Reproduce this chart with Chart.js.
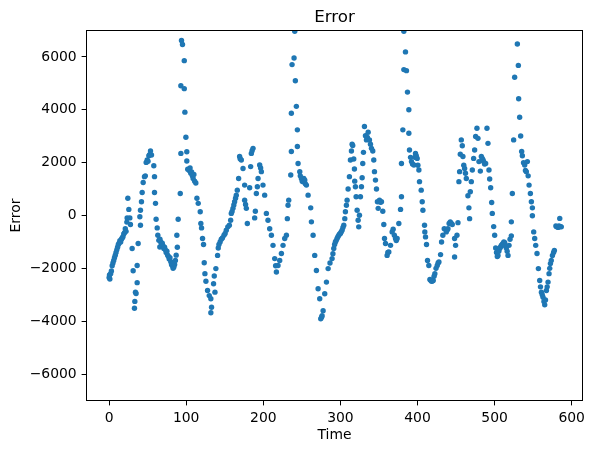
<!DOCTYPE html>
<html>
<head>
<meta charset="utf-8">
<script src="https://cdn.jsdelivr.net/npm/chart.js@4.4.1/dist/chart.umd.min.js"></script>
<style>
  html, body { margin: 0; padding: 0; background: #fff; }
  canvas { display: block; }
</style>
</head>
<body>
<canvas id="error_chart" width="593" height="453"></canvas>
<script>
// scatter of error over time

var timeValues = [
  0,0.5,1,2,3,4,5,6,7,8,9,10,11,12,13,14,15,16,17,18,19,20,21,22,23,23.4,24.3,25.6,26.9,27.7,
  29.9,31.2,32.9,33.4,34.2,35,36.4,36.4,37.7,39.9,40.7,40.7,42,42.9,44.2,45.9,47,48.1,49.4,50.5,
  51.6,52.5,53.7,55,58,58.9,58.9,60.2,61,62.4,63.2,64.5,65.8,66,67,68,69,70,71,72,
  73,74,75,76,77,78,79,80,81,82,83,84,85,86,87,87.9,88.5,89.6,92.3,93.1,
  93.1,93.9,95.2,97.5,97.5,98.3,99.6,100.8,100.8,102,103.9,105,106,107,108,109,110,111,112.5,113.9,
  115.6,118.2,119,119.9,121.2,122.5,123.4,124.3,125.6,127.7,129.9,132,132,132.9,135.5,136.4,137.3,138.5,140.7,141.6,
  142.5,144,145.5,147,149,150.5,152,154,156,157.7,158.5,159.5,160.7,161.8,162.8,164,165,166.3,168,169.3,
  170,171.5,173.7,175.8,175.8,177,178,179.3,182.3,183.6,184.5,185.5,186.7,188.8,189.7,191,192.3,193.2,195.3,196.5,
  197.5,199.6,201.8,204,206.1,208.3,210.5,212.6,214.8,216,217,219.1,221.3,223.5,225.6,227.8,230,231.2,232.1,233,
  235.6,236.4,236.4,237.3,239.9,240.8,241.6,242.9,244.2,244.2,245.1,247.3,248,249.4,250.5,251.6,252.5,253.8,254.5,255.9,
  258.1,261.5,262.4,264.6,266.7,268.9,271.1,273.2,274.5,275.5,276.3,277.6,279.7,281.9,284.1,286.5,
  289.2,290.3,291.4,292.5,293.5,294.5,295.7,296.8,297.9,299,300,301,302.2,303.3,304.4,305.7,306.5,307.8,308.7,310,
  311.7,313,314.3,315.2,316,317.3,318.2,318.6,319.5,320.4,321.7,323,323.8,324.7,326,327.3,328.2,329,329.9,331.2,
  332.5,333.8,335,336,337.7,339,340.3,342,343.3,344.2,345.5,346.8,348,349,350.7,352,353.3,355,356.3,357.2,
  358.5,360.6,361.5,362.8,365,367.1,368.4,370,371.5,372.5,373.6,375.8,378,379.2,379.2,381,382.3,382.3,384.4,385.7,
  387,388.8,388.8,389.6,391,392.2,393.5,395.3,396.5,397.4,398.5,399.6,400.5,401.8,402.6,404.8,406.1,407,409.1,409.5,
  410.4,411.7,413,414.7,416.1,417,418.2,419.3,420.4,421.5,422.5,424,425.6,426.7,427.8,429.9,431.2,432.9,434.7,
  437.3,438.5,439.5,441,442.5,444,445.1,448.1,448.1,449.4,451.2,452.5,453.7,454.6,455.5,456.8,458.1,458.9,460,461.1,
  462.2,463.3,465.4,466.7,467.6,468.5,469.8,471.1,472.8,474.1,475.4,477.1,478.4,479.7,481.5,482.8,484,485,485.8,487,
  488.4,490.1,491.4,492.7,493.6,494.9,496.2,497,498.8,500.1,501.4,502.5,503.5,504.4,505.5,506.6,507.5,508.7,509.8,510.9,
  512,513.1,514,515.2,516.3,517.4,518.7,520,521.7,521.7,523,524.7,526,529.5,530.8,531.2,532.5,533.8,535.1,536,
  537.5,539,540,541.2,542.5,543.5,544.7,546.4,547.7,549,549,550.7,552,553.3,555,556.8,558.5,559.5,560.7,561.8,
  562.8,564,565,566,567.2,568.2,569.3,570.6,571.5,572.4,573.5,575,576.5,577.5,579.5,580.5,581.5,582.5,583.5,584.5,
  585.5,586.5
];

var errorValues = [
  -2350,-2250,-2400,-2200,-2100,-1900,-1800,-1700,-1600,-1500,-1400,-1300,-1200,-1100,-1050,-950,-1000,-900,-850,-800,-700,-650,-500,-600,-250,-90,650,230,-90,-340,
  -1250,-2090,-3510,-3250,-2900,-2950,-2540,-1890,-1060,-50,-370,200,520,870,1250,1470,1500,2010,2100,2050,
  2260,2300,2440,2290,1880,1470,870,460,-140,-470,-750,-940,-1190,-900,-1000,-1100,-1050,-1150,-1250,-1200,
  -1300,-1400,-1350,-1500,-1550,-1650,-1600,-1750,-1850,-1900,-2000,-1950,-1850,-1700,-1500,-750,-1200,-140,830,2350,
  4910,6620,6470,5860,4800,3910,2960,2410,2060,1750,1700,1800,1600,1650,1500,1400,1550,1300,1230,650,
  460,140,-300,-470,-870,-1100,-1790,-2200,-2490,-2840,-3030,-3150,-3680,-3470,-2580,-2290,-2900,-2010,-1510,-1230,
  -1100,-1000,-900,-850,-750,-680,-560,-430,-370,-180,80,150,270,400,520,650,770,960,1400,2230,
  2150,2100,1780,1150,580,420,270,-300,1050,1850,2350,2450,2540,-90,160,830,1090,1400,1910,1800,
  1660,1150,770,80,-180,-500,-750,-1130,-1630,-1900,-2140,-1890,-1700,-1440,-1130,-870,-750,-120,390,580,
  1530,2420,3870,5710,5960,6970,5100,4130,3240,2610,1970,1660,1500,1400,1300,1280,1400,1340,1200,1150,
  770,290,-240,-750,-1510,-2080,-2770,-3150,-3910,-3850,-3790,-3600,-2960,-2520,-2010,-1800,
  -1630,-1450,-1250,-1100,-1000,-950,-870,-800,-750,-700,-680,-620,-560,-450,-370,-120,140,390,580,1000,
  1470,2100,2440,2700,2650,2140,1760,1300,1090,710,200,-180,-430,10,710,1090,1430,1970,2390,3370,
  3020,2860,2950,3150,2860,2700,2540,2440,2100,1660,1340,1000,520,270,580,500,520,160,-340,-870,
  -1060,-1510,-1400,-1380,-1130,-620,-520,-750,-870,-950,-870,-300,230,710,1970,3240,6970,5520,6190,5480,
  4670,4000,3110,2480,2200,2040,1950,1910,2200,2350,2250,2160,1900,1720,1280,960,520,200,-370,-620,
  -810,-1100,-1700,-1890,-2420,-2450,-2490,-2480,-2460,-2300,-2200,-2000,-1890,-1800,-1760,-1480,-1000,-750,-500,
  -620,-550,-500,-300,-240,-300,-340,-870,-1570,-1130,-750,-270,1280,1660,2320,2860,2640,2230,1900,1780,
  1600,1400,750,290,-120,900,1280,1720,2160,2480,2990,3300,2920,2040,1680,2230,2160,2100,2040,1950,
  1970,3300,2730,1720,1380,1050,490,80,-420,-750,-1230,-1400,-1550,-1510,-1350,-1250,-1200,-1130,-1100,-1060,
  -1000,-1030,-1150,-1230,-1350,-1510,-1130,-900,-770,-240,830,2860,5230,6490,5680,4420,3720,3010,2420,2260,
  2000,1910,1700,1660,2040,1500,1150,830,520,290,-10,-620,-870,-1130,-1440,-2010,-2460,-2700,-2900,-3000,
  -3090,-3250,-3380,-3200,-2840,-2700,-2520,-2200,-2000,-1820,-1700,-1510,-1400,-1320,-400,-430,-420,-450,-400,-110,
  -420,-430
];

var xTicks = [0, 100, 200, 300, 400, 500, 600];
var yTicks = [-6000, -4000, -2000, 0, 2000, 4000, 6000];

Chart.defaults.font.family = '"DejaVu Sans", sans-serif';
Chart.defaults.color = '#000';

var points = timeValues.map(function(t, i) { return {x: t, y: errorValues[i]}; });

// matplotlib style frame + title centred over the axes
const framePlugin = {
  id: 'frame',
  afterDraw(chart) {
    const ctx = chart.ctx;
    const a = chart.chartArea;
    ctx.save();
    ctx.strokeStyle = '#000';
    ctx.lineWidth = 1;
    ctx.strokeRect(a.left, a.top, a.right - a.left, a.bottom - a.top);
    ctx.fillStyle = '#000';
    ctx.font = '16.7px "DejaVu Sans"';
    ctx.textAlign = 'center';
    ctx.textBaseline = 'alphabetic';
    ctx.fillText('Error', (a.left + a.right) / 2, 21.7);
    ctx.restore();
  }
};

function fmt(v) { return String(v).replace('-', '\u2212'); }

const config = {
  type: 'scatter',
  data: {
    datasets: [{
      label: 'Error',
      data: points,
      backgroundColor: '#1f77b4',
      borderWidth: 0,
      pointRadius: 2.7,
      pointHoverRadius: 2.7
    }]
  },
  options: {
    responsive: false,
    animation: false,
    layout: { padding: { top: 30.5, right: 10.5, left: 0, bottom: 0 } },
    plugins: {
      legend: { display: false },
      title: { display: false },
      tooltip: { enabled: false }
    },
    scales: {
      x: {
        type: 'linear',
        min: -29.3,
        max: 614,
        afterBuildTicks: function(s) { s.ticks = xTicks.map(function(v) { return {value: v}; }); },
        afterFit: function(s) { s.height = 52.5; },
        grid: { drawOnChartArea: false, drawTicks: true, tickLength: 4.9, color: '#000', lineWidth: 1 },
        border: { display: false },
        ticks: { padding: 4.9, font: { size: 13.9 }, color: '#000', maxRotation: 0, callback: fmt },
        title: { display: true, text: 'Time', font: { size: 13.9 }, color: '#000', padding: { top: 0, bottom: 9.5 } }
      },
      y: {
        type: 'linear',
        min: -7000,
        max: 7000,
        afterBuildTicks: function(s) { s.ticks = yTicks.map(function(v) { return {value: v}; }); },
        afterFit: function(s) { s.width = 86.5; },
        grid: { drawOnChartArea: false, drawTicks: true, tickLength: 4.9, color: '#000', lineWidth: 1 },
        border: { display: false },
        ticks: { padding: 4.9, font: { size: 13.9 }, color: '#000', callback: fmt },
        title: { display: true, text: 'Error', font: { size: 13.9 }, color: '#000', padding: { top: 8, bottom: 0 } }
      }
    }
  },
  plugins: [framePlugin]
};

window.onload = function() {
  var ctx = document.getElementById('error_chart').getContext('2d');
  window.errorChart = new Chart(ctx, config);
};
</script>
</body>
</html>
